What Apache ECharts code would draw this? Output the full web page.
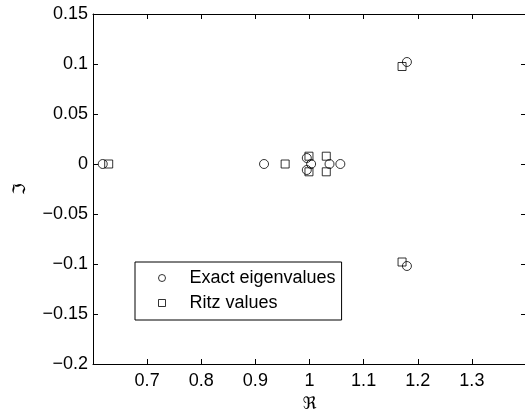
<!DOCTYPE html>
<html>
<head>
<meta charset="utf-8">
<script src="https://cdn.jsdelivr.net/npm/echarts@6/dist/echarts.min.js"></script>
<style>
html,body{margin:0;padding:0;background:#fff;}
#chart{width:525px;height:412px;}
</style>
</head>
<body>
<div id="chart"></div>
<script>
// Exact eigenvalues [Re, Im]
const exactEigenvalues = [
  [0.618, 0], [0.916, 0], [0.995, 0.006], [0.995, -0.006], [1.003, 0],
  [1.037, 0], [1.057, 0], [1.180, 0.102], [1.180, -0.102]
];
// Ritz values [Re, Im]
const ritzValues = [
  [0.629, 0], [0.955, 0], [0.999, 0.0078], [0.999, -0.0078],
  [1.031, 0.0078], [1.031, -0.0078], [1.171, 0.0975], [1.171, -0.098]
];
const seriesNames = ['Exact eigenvalues', 'Ritz values'];
const xRange = [0.6, 1.4, 0.1];
const yRange = [-0.2, 0.15, 0.05];

const FONT = 'Liberation Sans, Arial, sans-serif';
const fmt = v => {
  const s = String(parseFloat(v.toFixed(3)));
  return s.replace('-', '\u2212');
};
const axisLine = {show: true, onZero: false, lineStyle: {color: '#000', width: 1}};
const tick = {show: true, inside: true, length: 5, lineStyle: {color: '#000', width: 1}};

const chart = echarts.init(document.getElementById('chart'), null, {renderer: 'canvas'});
chart.setOption({
  animation: false,
  backgroundColor: '#fff',
  grid: {left: 93, right: -1, top: 14, bottom: 48, containLabel: false, outerBoundsMode: 'none'},
  xAxis: [{
    type: 'value', min: xRange[0], max: xRange[1], interval: xRange[2],
    position: 'bottom',
    axisLine: axisLine, axisTick: tick, splitLine: {show: false},
    axisLabel: {
      color: '#000', fontFamily: FONT, fontSize: 18, margin: 8,
      formatter: v => (Math.abs(v - xRange[0]) < 1e-9 || Math.abs(v - xRange[1]) < 1e-9) ? '' : fmt(v)
    },
    name: '\u211C', nameLocation: 'middle', nameGap: 32,
    nameTextStyle: {color: '#000', fontFamily: 'DejaVu Sans, sans-serif', fontSize: 17}
  }, {
    type: 'value', min: xRange[0], max: xRange[1], interval: xRange[2],
    position: 'top',
    axisLine: axisLine, axisTick: tick, splitLine: {show: false},
    axisLabel: {show: false}
  }],
  yAxis: [{
    type: 'value', min: yRange[0], max: yRange[1], interval: yRange[2],
    position: 'left',
    axisLine: axisLine, axisTick: tick, splitLine: {show: false},
    axisLabel: {color: '#000', fontFamily: FONT, fontSize: 18, margin: 5, formatter: fmt},
    name: '\u2111', nameLocation: 'middle', nameGap: 64, nameRotate: 90,
    nameTextStyle: {color: '#000', fontFamily: 'DejaVu Sans, sans-serif', fontSize: 17}
  }, {
    type: 'value', min: yRange[0], max: yRange[1], interval: yRange[2],
    position: 'right',
    axisLine: axisLine, axisTick: tick, splitLine: {show: false},
    axisLabel: {show: false}
  }],
  legend: {
    orient: 'vertical', left: 135, top: 262,
    padding: [7, 6, 8, 23],
    itemGap: 7, itemWidth: 7, itemHeight: 7,
    borderColor: '#000', borderWidth: 1, backgroundColor: '#fff',
    itemStyle: {color: 'rgba(0,0,0,0)', borderColor: '#000', borderWidth: 1},
    textStyle: {color: '#000', fontFamily: FONT, fontSize: 18, padding: [0, 0, 0, 19]},
    data: [
      {name: seriesNames[0], icon: 'circle'},
      {name: seriesNames[1], icon: 'rect'}
    ]
  },
  series: [{
    name: seriesNames[0], type: 'scatter', data: exactEigenvalues,
    symbol: 'circle', symbolSize: 9,
    itemStyle: {color: 'rgba(0,0,0,0)', borderColor: '#000', borderWidth: 1}
  }, {
    name: seriesNames[1], type: 'scatter', data: ritzValues,
    symbol: 'rect', symbolSize: 8,
    itemStyle: {color: 'rgba(0,0,0,0)', borderColor: '#000', borderWidth: 1}
  }]
});
</script>
</body>
</html>
